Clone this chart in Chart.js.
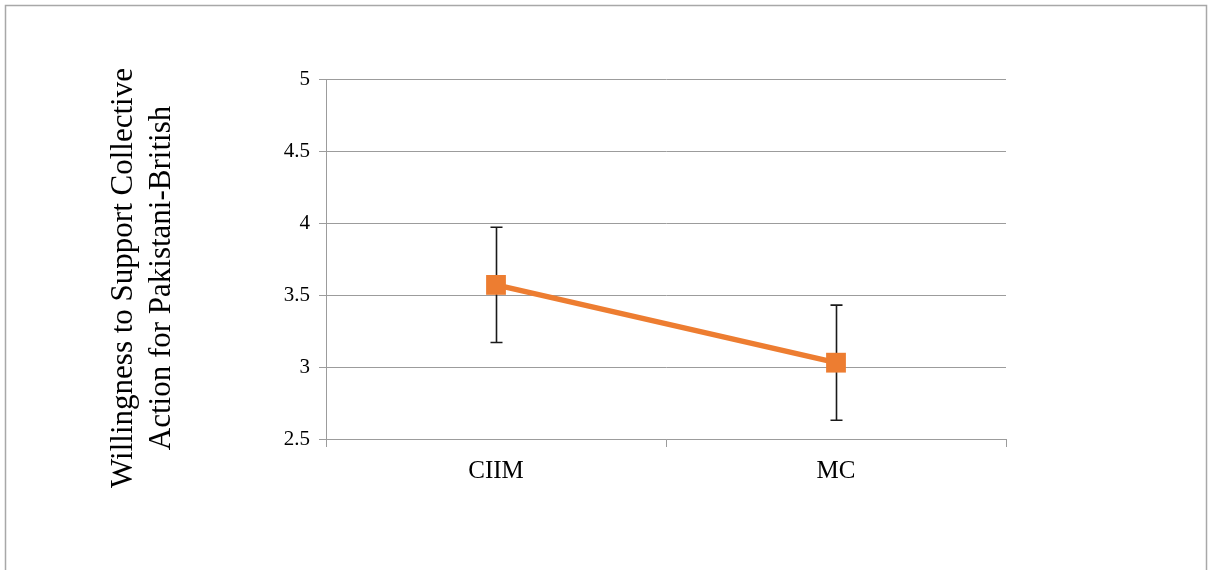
<!DOCTYPE html>
<html>
<head>
<meta charset="utf-8">
<script src="https://cdn.jsdelivr.net/npm/chart.js@4/dist/chart.umd.min.js"></script>
<style>
  html, body { margin: 0; padding: 0; background: #fff; overflow: hidden; }
  #wrap { width: 1208px; height: 570px; position: relative; }
</style>
</head>
<body>
<div id="wrap"><canvas id="c" width="1208" height="570"></canvas></div>
<script>
// ---- data ----
const categories = ['CIIM', 'MC'];
const means = [3.57, 3.03];
const errors = [0.40, 0.40];
const yTitleLines = ['Willingness to Support Collective', 'Action for Pakistani-British'];
const yMin = 2.5, yMax = 5, yStep = 0.5;

const FONT = '"Liberation Serif", "Times New Roman", serif';
const GRID = '#9c9c9c';
const ORANGE = '#ED7D31';

const framePlugin = {
  id: 'frame',
  beforeDraw(chart) {
    const ctx = chart.ctx;
    ctx.save();
    ctx.fillStyle = '#fff';
    ctx.fillRect(0, 0, chart.width, chart.height);
    ctx.strokeStyle = '#a8a8a8';
    ctx.lineWidth = 1.5;
    ctx.strokeRect(5.5, 5.5, 1201, 620);
    ctx.restore();
  }
};

const errorBarPlugin = {
  id: 'errbars',
  beforeDatasetsDraw(chart) {
    const ctx = chart.ctx;
    const xs = chart.scales.x, ys = chart.scales.y;
    ctx.save();
    ctx.strokeStyle = '#1a1a1a';
    ctx.lineWidth = 1.6;
    means.forEach((m, i) => {
      const x = Math.round(xs.getPixelForValue(i)) + 0.5;
      const yTop = ys.getPixelForValue(m + errors[i]);
      const yBot = ys.getPixelForValue(m - errors[i]);
      ctx.beginPath();
      ctx.moveTo(x, yTop); ctx.lineTo(x, yBot);
      ctx.moveTo(x - 6, yTop); ctx.lineTo(x + 6, yTop);
      ctx.moveTo(x - 6, yBot); ctx.lineTo(x + 6, yBot);
      ctx.stroke();
    });
    ctx.restore();
  }
};

const yTitlePlugin = {
  id: 'ytitle',
  afterDraw(chart) {
    const ctx = chart.ctx;
    ctx.save();
    ctx.font = '31px ' + FONT;
    ctx.fillStyle = '#000';
    ctx.textAlign = 'center';
    ctx.textBaseline = 'middle';
    const cy = 278;
    const xs0 = 124, dx = 38;
    yTitleLines.forEach((t, i) => {
      ctx.save();
      ctx.translate(xs0 + i * dx, cy);
      ctx.rotate(-Math.PI / 2);
      ctx.fillText(t, 0, 0);
      ctx.restore();
    });
    ctx.restore();
  }
};

new Chart(document.getElementById('c'), {
  type: 'line',
  data: {
    labels: categories,
    datasets: [{
      data: means,
      borderColor: ORANGE,
      backgroundColor: ORANGE,
      borderWidth: 5.5,
      pointStyle: 'rect',
      pointRadius: 14,
      pointHoverRadius: 14,
      pointBorderWidth: 0,
      pointBackgroundColor: ORANGE,
      tension: 0
    }]
  },
  options: {
    responsive: false,
    animation: false,
    devicePixelRatio: 1,
    layout: { padding: { left: 0, top: 79, right: 202, bottom: 0 } },
    plugins: { legend: { display: false }, tooltip: { enabled: false } },
    scales: {
      x: {
        offset: true,
        grid: { offset: true, drawOnChartArea: false, drawTicks: true, tickLength: 8, color: GRID, lineWidth: 1 },
        border: { display: true, color: GRID, width: 1 },
        ticks: { color: '#000', font: { family: FONT, size: 25 }, padding: 9, maxRotation: 0 },
        afterFit(scale) { scale.height = 131; }
      },
      y: {
        min: yMin, max: yMax,
        grid: { color: GRID, lineWidth: 1, tickLength: 7, drawTicks: true },
        border: { display: true, color: GRID, width: 1 },
        ticks: {
          stepSize: yStep, color: '#000', font: { family: FONT, size: 21 }, padding: 9,
          callback: (v) => String(v)
        },
        afterFit(scale) { scale.width = 326; }
      }
    }
  },
  plugins: [framePlugin, errorBarPlugin, yTitlePlugin]
});
</script>
</body>
</html>
